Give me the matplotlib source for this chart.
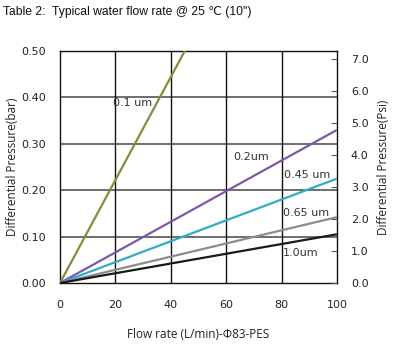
import matplotlib
matplotlib.use("Agg")
import matplotlib.pyplot as plt
import numpy as np

flow = [0, 100]
series_names = ["0.1 um", "0.2um", "0.45 um", "0.65 um", "1.0um"]
dp_at_100 = [1.11, 0.33, 0.225, 0.142, 0.105]
colors = ["#77933C", "#7E57A8", "#31ACC6", "#8C8C8C", "#1A1A1A"]
label_pos = [(19.0, 0.388), (62.5, 0.272), (80.8, 0.233), (80.5, 0.151), (80.5, 0.065)]
x_ticks = [0, 20, 40, 60, 80, 100]
y_ticks = [0.0, 0.1, 0.2, 0.3, 0.4, 0.5]
psi_ticks = [0, 1, 2, 3, 4, 5, 6, 7]

fig = plt.figure(figsize=(3.94, 3.44), dpi=100)
ax = fig.add_axes([60/394, (344-283)/344, 277/394, 232/344])

tc = "#222222"
for v in y_ticks[1:-1]:
    ax.axhline(v, color="#555555", lw=1.2, zorder=1)
for v in x_ticks[1:-1]:
    ax.axvline(v, color="#111111", lw=1.0, zorder=1)

for name, d, c, (lx, ly) in zip(series_names, dp_at_100, colors, label_pos):
    ax.plot(flow, [0, d], color=c, lw=1.6, zorder=3, solid_capstyle="butt")
    ax.text(lx, ly, name, fontsize=8, color="#333333", va="center", ha="left",
            family="DejaVu Sans", zorder=4)

ax.set_xlim(0, 100)
ax.set_ylim(0, 0.5)
ax.set_xticks(x_ticks)
ax.set_yticks(y_ticks)
ax.set_xticklabels([str(v) for v in x_ticks], fontsize=8, color=tc)
ax.set_yticklabels([f"{v:.2f}" for v in y_ticks], fontsize=8, color=tc)
ax.tick_params(axis="x", length=0, pad=12)
ax.tick_params(axis="y", length=0, pad=10)
for s in ax.spines.values():
    s.set_color("#111111")
    s.set_linewidth(1.0)

ax2 = ax.twinx()
ax2.set_ylim(0, 0.5 * 14.5)
ax2.set_yticks(psi_ticks)
ax2.set_yticklabels([f"{v:.1f}" for v in psi_ticks], fontsize=8, color=tc)
ax2.tick_params(axis="y", direction="in", length=4, color="#555555", pad=10)
for s in ax2.spines.values():
    s.set_visible(False)

ax.set_xlabel("Flow rate (L/min)-Φ83-PES", fontsize=8.5, color=tc, family="Open Sans", labelpad=13)
ax.set_ylabel("Differential Pressure(bar)", fontsize=8.5, color=tc, family="Open Sans", labelpad=2)
ax2.set_ylabel("Differential Pressure(Psi)", fontsize=8.5, color=tc, family="Open Sans", labelpad=6)

fig.text(3/394, 1 - 12/344, "Table 2:  Typical water flow rate @ 25 \u2103 (10\")",
         fontsize=8.7, color="#111111", family=["Liberation Sans", "DejaVu Sans"], va="center", ha="left")

fig.savefig("out.png", dpi=100)
